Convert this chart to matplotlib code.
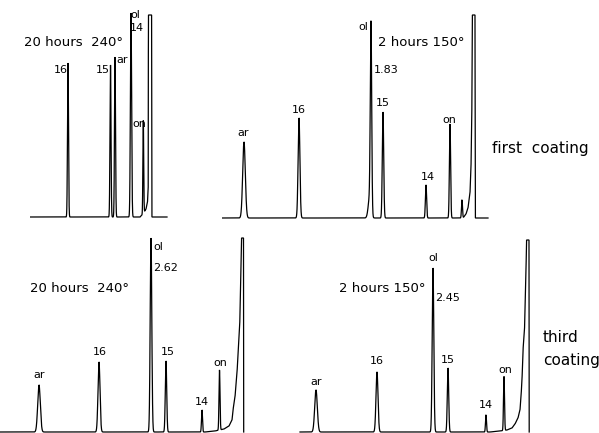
import matplotlib
matplotlib.use("Agg")
import matplotlib.pyplot as plt
import numpy as np

W, H = 599, 433

# ---- data (chart-paper units, 1 unit ~ 1 px) ----
# panel 1: first coating, 20 hours 240°
p1_names = ["16", "15", "ar", "ol", "on"]
p1_ret = [38, 80.5, 85, 101, 113.3]
p1_height = [154, 152, 160, 204, 93]
p1_sigma = [0.5, 0.5, 0.5, 0.6, 0.4]
p1_solv_t = [110, 113, 116, 117.5, 118.2, 118.4, 121.6, 121.8]
p1_solv_h = [0, 3, 8, 15, 30, 202, 202, 0]

# panel 2: first coating, 2 hours 150°
p2_names = ["ar", "16", "", "ol", "15", "14", "on", ""]
p2_ret = [22, 77, 147.6, 149, 161, 204, 228, 240]
p2_height = [76, 100, 20, 185, 106, 33, 94, 18]
p2_sigma = [1.3, 0.9, 1.4, 0.7, 0.7, 0.6, 0.6, 0.5]
p2_solv_t = [241, 244, 246, 248, 249, 249.8, 250.3, 253, 253.3]
p2_solv_h = [0, 4, 10, 25, 50, 100, 203, 203, 0]

# panel 3: third coating, 20 hours 240°
p3_names = ["ar", "16", "ol", "15", "14", "on"]
p3_ret = [39, 99, 151, 166, 202, 219.5]
p3_height = [47, 70, 194, 71, 22, 60]
p3_sigma = [1.3, 1.0, 0.8, 0.7, 0.5, 0.5]
p3_solv_t = [205, 215, 224, 229, 232, 233, 235, 237, 238.3, 239.7, 241, 241.5, 243.5, 243.7]
p3_solv_h = [0, 1, 3, 6, 12, 22, 35, 59, 82, 105, 170, 194, 194, 0]

# panel 4: third coating, 2 hours 150°
p4_names = ["ar", "16", "ol", "15", "14", "on"]
p4_ret = [18, 79, 135, 150, 188, 206]
p4_height = [42, 60, 164, 64, 17, 54]
p4_sigma = [1.3, 1.0, 0.8, 0.7, 0.5, 0.5]
p4_solv_t = [192, 202, 209, 214, 217, 220, 222, 223, 224, 225, 226.5, 228, 228.5, 231, 231.2]
p4_solv_h = [0, 1, 2, 4, 8, 14, 22, 35, 52, 82, 102, 160, 192, 192, 0]

# relative retention of "ol"
ol_rel = {"p2": "1.83", "p3": "2.62", "p4": "2.45"}


def make_axes(fig, x0, x1, y_top, y_base, pad=3):
    ax = fig.add_axes([x0 / W, 1 - (y_base + pad) / H,
                       (x1 - x0) / W, (y_base + pad - y_top) / H])
    ax.set_xlim(0, x1 - x0)
    ax.set_ylim(-pad, y_base - y_top)
    ax.axis("off")
    return ax


def draw_trace(ax, t_start, t_end, ret, height, sigma, solv_t, solv_h):
    t = np.linspace(t_start, t_end, 12000)
    y = np.zeros_like(t)
    for r, h, s in zip(ret, height, sigma):
        y += h * np.exp(-0.5 * ((t - r) / s) ** 2)
    y += np.interp(t, solv_t, solv_h, left=0, right=0)
    ax.plot(t, y, color="black", lw=0.9, solid_joinstyle="miter")


lab = dict(fontsize=8, color="black")
ttl = dict(fontsize=9.5, color="black")

fig = plt.figure(figsize=(W / 100, H / 100), dpi=100)
fig.patch.set_facecolor("white")

# panel 1
ax1 = make_axes(fig, 30, 170, 0, 217)
draw_trace(ax1, 0, 137, p1_ret, p1_height, p1_sigma, p1_solv_t, p1_solv_h)
ax1.text(31, 147, "16", ha="center", va="center", **lab)
ax1.text(73, 147, "15", ha="center", va="center", **lab)
ax1.text(92, 157, "ar", ha="center", va="center", **lab)
ax1.text(105.5, 202, "ol", ha="center", va="center", **lab)
ax1.text(107, 189, "14", ha="center", va="center", **lab)
ax1.text(109, 93, "on", ha="center", va="center", **lab)
ax1.text(43, 175, "20 hours  240°", ha="center", va="center", **ttl)

# panel 2
ax2 = make_axes(fig, 222, 490, 0, 218)
draw_trace(ax2, 0, 266, p2_ret, p2_height, p2_sigma, p2_solv_t, p2_solv_h)
ax2.text(21, 85, "ar", ha="center", va="center", **lab)
ax2.text(77, 108, "16", ha="center", va="center", **lab)
ax2.text(141, 191, "ol", ha="center", va="center", **lab)
ax2.text(152, 148, ol_rel["p2"], ha="left", va="center", **lab)
ax2.text(161, 115, "15", ha="center", va="center", **lab)
ax2.text(206, 41, "14", ha="center", va="center", **lab)
ax2.text(227, 98, "on", ha="center", va="center", **lab)
ax2.text(199, 176, "2 hours 150°", ha="center", va="center", **ttl)

# panel 3
ax3 = make_axes(fig, 0, 255, 225, 432)
draw_trace(ax3, 0, 243.7, p3_ret, p3_height, p3_sigma, p3_solv_t, p3_solv_h)
ax3.text(39, 57, "ar", ha="center", va="center", **lab)
ax3.text(100, 80, "16", ha="center", va="center", **lab)
ax3.text(153, 185, "ol", ha="left", va="center", **lab)
ax3.text(153, 164, ol_rel["p3"], ha="left", va="center", **lab)
ax3.text(168, 80, "15", ha="center", va="center", **lab)
ax3.text(202, 30, "14", ha="center", va="center", **lab)
ax3.text(220, 69, "on", ha="center", va="center", **lab)
ax3.text(79, 144, "20 hours  240°", ha="center", va="center", **ttl)

# panel 4
ax4 = make_axes(fig, 298, 540, 225, 432)
draw_trace(ax4, 2, 231.2, p4_ret, p4_height, p4_sigma, p4_solv_t, p4_solv_h)
ax4.text(18, 50, "ar", ha="center", va="center", **lab)
ax4.text(79, 71, "16", ha="center", va="center", **lab)
ax4.text(135, 174, "ol", ha="center", va="center", **lab)
ax4.text(137, 134, ol_rel["p4"], ha="left", va="center", **lab)
ax4.text(150, 72, "15", ha="center", va="center", **lab)
ax4.text(188, 27, "14", ha="center", va="center", **lab)
ax4.text(207, 62, "on", ha="center", va="center", **lab)
ax4.text(84, 144, "2 hours 150°", ha="center", va="center", **ttl)

fig.text(492 / W, 1 - 153 / H, "first  coating", ha="left", va="baseline",
         fontsize=11)
fig.text(543 / W, 1 - 342 / H, "third", ha="left", va="baseline", fontsize=11)
fig.text(543 / W, 1 - 365 / H, "coating", ha="left", va="baseline", fontsize=11)

fig.savefig("out.png", dpi=100, facecolor="white")
